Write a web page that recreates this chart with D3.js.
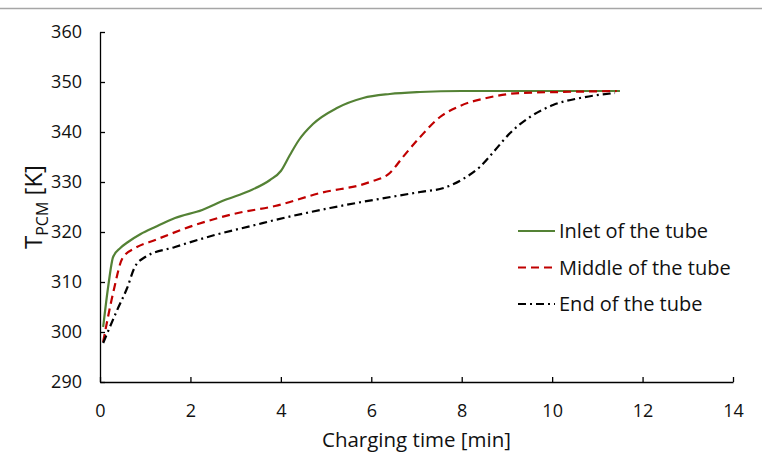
<!DOCTYPE html>
<html>
<head>
<meta charset="utf-8">
<script src="https://cdn.jsdelivr.net/npm/d3@7"></script>
<style>
  body { margin: 0; background: #fff; }
  svg text { font-family: "Open Sans", "Noto Sans", sans-serif; fill: #111; }
</style>
</head>
<body>
<div id="main"></div>
<script>
// values
const inletTime  = [0.07, 0.18, 0.29, 0.45, 0.62, 0.9, 1.22, 1.66, 2.26, 2.76, 3.3, 3.76, 4.0, 4.2, 4.4, 4.71, 5.24, 5.82, 6.41, 7.08, 8, 9.5, 11.5];
const inletTemp  = [301, 309, 315, 316.8, 318, 319.6, 321, 322.8, 324.4, 326.4, 328.2, 330.4, 332.2, 335.4, 338.4, 341.6, 344.8, 346.8, 347.6, 348, 348.2, 348.2, 348.2];

const middleTime = [0.07, 0.29, 0.5, 0.78, 1.22, 2.1, 3.05, 3.87, 4.87, 5.97, 6.41, 6.7, 7.08, 7.52, 7.96, 8.55, 9.29, 10.17, 11.43];
const middleTemp = [298, 307.8, 314.8, 316.8, 318.4, 321.4, 323.8, 325.2, 327.8, 330, 331.8, 335, 339, 343, 345.2, 346.8, 347.8, 348, 348.2];

const endTime    = [0.07, 0.38, 0.6, 0.77, 1.0, 1.66, 2.54, 3.43, 3.87, 5.09, 7.08, 7.6, 8.03, 8.4, 8.74, 9.07, 9.51, 10.02, 10.62, 11.39];
const endTemp    = [297.8, 304.4, 308.8, 313, 315, 317, 319.4, 321.4, 322.4, 324.8, 328, 328.8, 330.6, 333, 336.4, 339.8, 343, 345.4, 346.8, 347.8];

const seriesNames = ["Inlet of the tube", "Middle of the tube", "End of the tube"];
const xTicks = [0, 2, 4, 6, 8, 10, 12, 14];
const yTicks = [290, 300, 310, 320, 330, 340, 350, 360];

const seriesStyle = [
  { color: "#548235", dash: null },
  { color: "#c00000", dash: "8,5" },
  { color: "#000000", dash: "8,4,2,4" }
];

const chartW = 762, chartH = 466;
const plot = { left: 100, right: 733, top: 32, bottom: 382 };

const svg = d3.select("#main")
  .append("svg")
  .attr("width", chartW)
  .attr("height", chartH);

// thin frame edge at the top
svg.append("line")
  .attr("x1", 0).attr("x2", chartW)
  .attr("y1", 8.5).attr("y2", 8.5)
  .attr("stroke", "#a6a6a6")
  .attr("stroke-width", 1.5);

const x = d3.scaleLinear().domain([0, 14]).range([plot.left, plot.right]);
const y = d3.scaleLinear().domain([290, 360]).range([plot.bottom, plot.top]);

const xAxis = svg.append("g")
  .attr("transform", `translate(0, ${plot.bottom})`)
  .call(d3.axisBottom(x).tickValues(xTicks).tickSizeInner(-5).tickSizeOuter(0).tickPadding(22));

const yAxis = svg.append("g")
  .attr("transform", `translate(${plot.left}, 0)`)
  .call(d3.axisLeft(y).tickValues(yTicks).tickSizeInner(-5).tickSizeOuter(0).tickPadding(18));

[xAxis, yAxis].forEach(ax => {
  ax.select(".domain").attr("stroke", "#000").attr("stroke-width", 1.3);
  ax.selectAll(".tick line").attr("stroke", "#000").attr("stroke-width", 1.3);
  ax.selectAll(".tick text")
    .attr("font-size", 18)
    .attr("font-family", "\"Open Sans\", sans-serif")
    .attr("fill", "#111");
});

svg.append("text")
  .attr("x", (plot.left + plot.right) / 2)
  .attr("y", 447)
  .attr("text-anchor", "middle")
  .attr("font-size", 20.5)
  .text("Charging time [min]");

const yTitle = svg.append("text")
  .attr("transform", `translate(42, ${(plot.top + plot.bottom) / 2}) rotate(-90)`)
  .attr("text-anchor", "middle")
  .attr("font-size", 24);
yTitle.append("tspan").text("T");
yTitle.append("tspan").attr("font-size", 16).attr("dy", 6).text("PCM");
yTitle.append("tspan").attr("dy", -6).text(" [K]");

const series = [
  d3.zip(inletTime, inletTemp),
  d3.zip(middleTime, middleTemp),
  d3.zip(endTime, endTemp)
];

const line = d3.line()
  .x(d => x(d[0]))
  .y(d => y(d[1]))
  .curve(d3.curveMonotoneX);

svg.selectAll("path.series")
  .data(series)
  .enter()
  .append("path")
  .attr("class", "series")
  .attr("d", line)
  .attr("fill", "none")
  .attr("stroke", (d, i) => seriesStyle[i].color)
  .attr("stroke-width", 2.2)
  .attr("stroke-dasharray", (d, i) => seriesStyle[i].dash);

const legend = svg.append("g").attr("transform", "translate(518, 231)");

const item = legend.selectAll("g")
  .data(seriesNames)
  .enter()
  .append("g")
  .attr("transform", (d, i) => `translate(0, ${i * 36.5})`);

item.append("line")
  .attr("x1", 0).attr("x2", 37)
  .attr("y1", 0).attr("y2", 0)
  .attr("stroke", (d, i) => seriesStyle[i].color)
  .attr("stroke-width", 2.2)
  .attr("stroke-dasharray", (d, i) => seriesStyle[i].dash);

item.append("text")
  .attr("x", 41)
  .attr("y", 7)
  .attr("font-size", 20)
  .text(d => d);
</script>
</body>
</html>
